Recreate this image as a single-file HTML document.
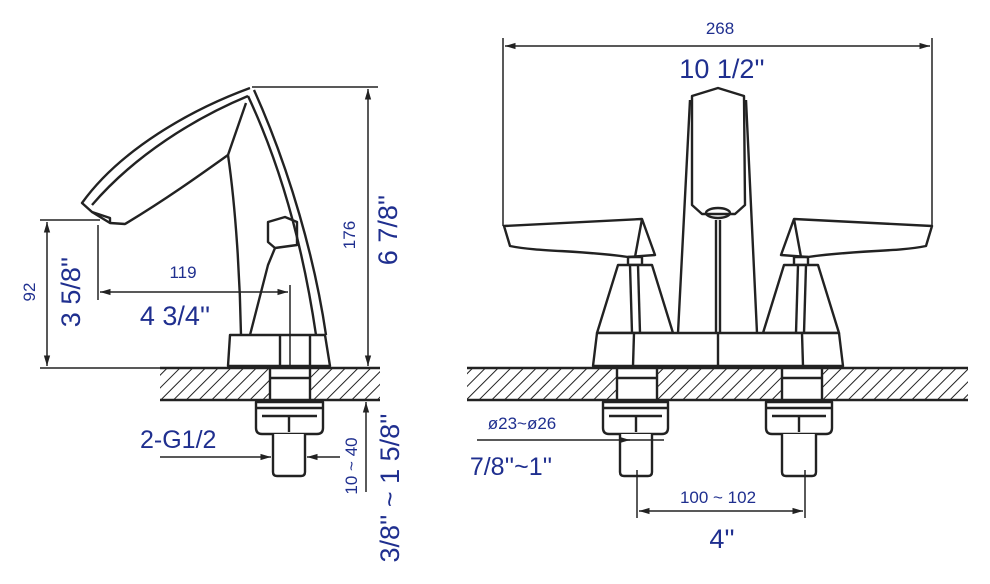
<!DOCTYPE html>
<html><head><meta charset="utf-8"><style>
html,body{margin:0;padding:0;background:#fff;width:990px;height:584px;overflow:hidden}
svg{display:block}
text{font-family:"Liberation Sans",sans-serif;fill:#1f2f8f}
</style></head><body>
<svg width="990" height="584" viewBox="0 0 990 584" xmlns="http://www.w3.org/2000/svg">
<defs>
<pattern id="h" width="9" height="9" patternUnits="userSpaceOnUse" patternTransform="rotate(45)">
<rect width="9" height="9" fill="#fff"/><line x1="0" y1="0" x2="0" y2="9" stroke="#222" stroke-width="2"/></pattern>
<marker id="a" viewBox="0 0 10 10" refX="10" refY="5" markerWidth="9" markerHeight="7" orient="auto-start-reverse"><path d="M0,2 L10,5 L0,8 z" fill="#222"/></marker>
</defs>
<g stroke="#222" stroke-width="2.4" fill="none" stroke-linejoin="round">
<rect x="160" y="368" width="220" height="32" fill="url(#h)" stroke="none"/>
<line x1="160" y1="368" x2="380" y2="368"/><line x1="160" y1="400" x2="380" y2="400"/>
<rect x="467" y="368" width="501" height="32" fill="url(#h)" stroke="none"/>
<line x1="467" y1="368" x2="968" y2="368"/><line x1="467" y1="400" x2="968" y2="400"/>

<path d="M250,88 C190,110 120,150 82,203 L92,212 L110,223 L125,224 C165,200 200,175 228,155 C236,210 240,280 241,335" fill="#fff"/>
<path d="M248,96 C195,118 135,155 92,205" />
<path d="M246,103 L228,155"/>
<path d="M254,90 C290,170 315,260 326,335"/>
<path d="M248,96 C285,175 305,260 316,335"/>
<path d="M92,212 L110,218 L110,223"/>
<path d="M268,222 L285,217 L297,222 L297,245 L275,248 L268,242 Z"/>
<path d="M275,248 L268,265 L250,335"/>
<path d="M230,335 L240,335 L325,335 L330,366 L228,366 Z" fill="#fff"/>
<line x1="280" y1="335" x2="280" y2="366"/><line x1="310" y1="335" x2="310" y2="366"/>
<rect x="270" y="368" width="40" height="32" fill="#fff"/>
<line x1="270" y1="378" x2="310" y2="378"/>
<path d="M256,402 H323 V428 Q323,434 317,434 H262 Q256,434 256,428 Z" fill="#fff"/>
<line x1="256" y1="408" x2="323" y2="408"/><line x1="262" y1="416" x2="317" y2="416"/>
<path d="M273,434 V472 Q273,476 277,476 H301 Q305,476 305,472 V434" fill="#fff"/>
<line x1="289" y1="416" x2="289" y2="432"/>

<line x1="40" y1="220" x2="100" y2="220" stroke-width="1.5"/>
<line x1="40" y1="368" x2="160" y2="368" stroke-width="1.5"/>
<line x1="47" y1="222" x2="47" y2="366" stroke-width="1.5" marker-start="url(#a)" marker-end="url(#a)"/>
<line x1="98" y1="225" x2="98" y2="300" stroke-width="1.5"/>
<line x1="290" y1="285" x2="290" y2="368" stroke-width="1.5"/>
<line x1="100" y1="292" x2="288" y2="292" stroke-width="1.5" marker-start="url(#a)" marker-end="url(#a)"/>
<line x1="252" y1="87" x2="378" y2="87" stroke-width="1.5"/>
<line x1="368" y1="89" x2="368" y2="366" stroke-width="1.5" marker-start="url(#a)" marker-end="url(#a)"/>
<line x1="366" y1="492" x2="366" y2="402" stroke-width="1.5" marker-end="url(#a)"/>
<line x1="160" y1="457" x2="271" y2="457" stroke-width="1.5" marker-end="url(#a)"/>
<line x1="340" y1="457" x2="307" y2="457" stroke-width="1.5" marker-end="url(#a)"/>

<path d="M692,96 L718,88 L744,96 L745,205 L735,214 L702,214 L692,205 Z" fill="#fff"/>
<ellipse cx="718" cy="213" rx="12" ry="5"/>
<path d="M690,100 L678,333 M746,100 L757,333"/>
<line x1="716" y1="220" x2="716" y2="333"/><line x1="720" y1="220" x2="720" y2="333"/>
<path d="M504,226 L642,219 L655,255 L628,257 C580,250 540,252 510,246 Z" fill="#fff"/>
<path d="M642,219 L635,257"/>
<path d="M932,226 L794,219 L781,255 L808,257 C856,250 896,252 926,246 Z" fill="#fff"/>
<path d="M794,219 L801,257"/>
<rect x="628" y="257" width="14" height="8"/><rect x="794" y="257" width="14" height="8"/>
<path d="M618,265 L652,265 L673,333 L597,333 Z" fill="#fff"/>
<line x1="630" y1="265" x2="632" y2="333"/><line x1="638" y1="265" x2="640" y2="333"/>
<path d="M784,265 L818,265 L839,333 L763,333 Z" fill="#fff"/>
<line x1="798" y1="265" x2="796" y2="333"/><line x1="806" y1="265" x2="804" y2="333"/>
<path d="M597,333 L839,333 L843,366 L593,366 Z" fill="#fff"/>
<line x1="634" y1="333" x2="633" y2="366"/><line x1="718" y1="333" x2="718" y2="366"/><line x1="802" y1="333" x2="803" y2="366"/>
<rect x="617" y="368" width="40" height="32" fill="#fff"/><line x1="617" y1="378" x2="657" y2="378"/>
<rect x="782" y="368" width="40" height="32" fill="#fff"/><line x1="782" y1="378" x2="822" y2="378"/>
<path d="M603,402 H668 V428 Q668,434 662,434 H609 Q603,434 603,428 Z" fill="#fff"/>
<line x1="603" y1="408" x2="668" y2="408"/><line x1="609" y1="416" x2="662" y2="416"/><line x1="636" y1="416" x2="636" y2="432"/>
<path d="M620,434 V472 Q620,476 624,476 H648 Q652,476 652,472 V434" fill="#fff"/>
<path d="M766,402 H832 V428 Q832,434 826,434 H772 Q766,434 766,428 Z" fill="#fff"/>
<line x1="766" y1="408" x2="832" y2="408"/><line x1="772" y1="416" x2="826" y2="416"/><line x1="799" y1="416" x2="799" y2="432"/>
<path d="M782,434 V472 Q782,476 786,476 H812 Q816,476 816,472 V434" fill="#fff"/>

<line x1="503" y1="38" x2="503" y2="226" stroke-width="1.5"/>
<line x1="932" y1="38" x2="932" y2="226" stroke-width="1.5"/>
<line x1="505" y1="46" x2="930" y2="46" stroke-width="1.5" marker-start="url(#a)" marker-end="url(#a)"/>
<line x1="477" y1="440" x2="664" y2="440" stroke-width="1.5"/>
<line x1="619" y1="440" x2="630" y2="440" stroke-width="1.5" marker-end="url(#a)"/>
<line x1="637" y1="470" x2="637" y2="518" stroke-width="1.5"/>
<line x1="805" y1="470" x2="805" y2="518" stroke-width="1.5"/>
<line x1="639" y1="511" x2="803" y2="511" stroke-width="1.5" marker-start="url(#a)" marker-end="url(#a)"/>
</g>

<text x="183" y="278" font-size="17" text-anchor="middle">119</text>
<text x="175" y="325" font-size="27" text-anchor="middle">4 3/4''</text>
<text transform="translate(35,292) rotate(-90)" font-size="17" text-anchor="middle">92</text>
<text transform="translate(80,292) rotate(-90)" font-size="27" text-anchor="middle">3 5/8''</text>
<text transform="translate(355,235) rotate(-90)" font-size="17" text-anchor="middle">176</text>
<text transform="translate(397,230) rotate(-90)" font-size="27" text-anchor="middle">6 7/8''</text>
<text x="140" y="448" font-size="25">2-G1/2</text>
<text transform="translate(357,466) rotate(-90)" font-size="17" text-anchor="middle">10 ~ 40</text>
<text transform="translate(399,488) rotate(-90)" font-size="27" text-anchor="middle">3/8'' ~ 1 5/8''</text>
<text x="720" y="34" font-size="17" text-anchor="middle">268</text>
<text x="722" y="78" font-size="27" text-anchor="middle">10 1/2''</text>
<text x="522" y="429" font-size="17" text-anchor="middle">ø23~ø26</text>
<text x="511" y="475" font-size="25" text-anchor="middle">7/8''~1''</text>
<text x="718" y="503" font-size="17" text-anchor="middle">100 ~ 102</text>
<text x="722" y="548" font-size="27" text-anchor="middle">4''</text>
</svg>
</body></html>
